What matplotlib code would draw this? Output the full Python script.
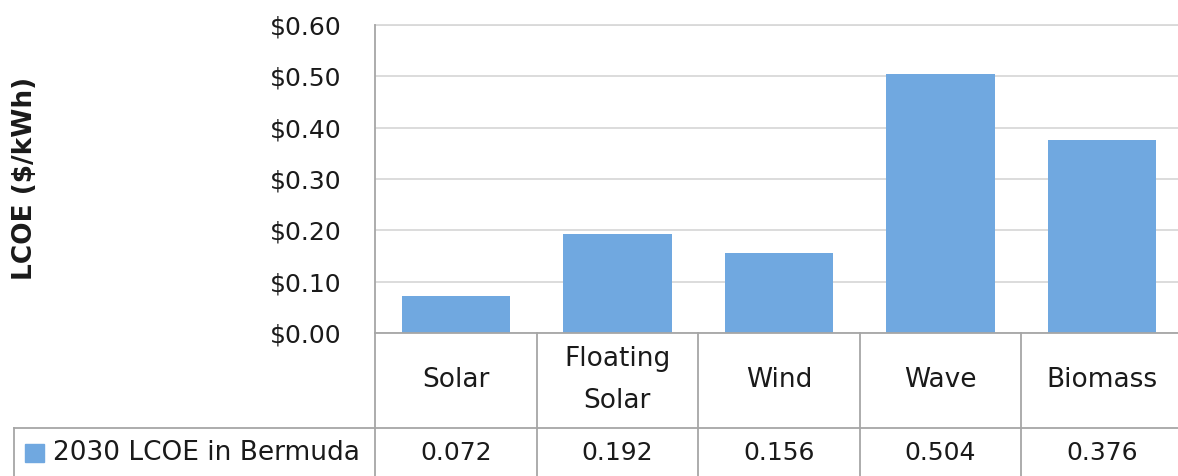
import matplotlib
matplotlib.use("Agg")
import matplotlib.pyplot as plt
from matplotlib.transforms import blended_transform_factory

categories = ["Solar", "Floating\nSolar", "Wind", "Wave", "Biomass"]
lcoe_2030 = [0.072, 0.192, 0.156, 0.504, 0.376]
series_name = "2030 LCOE in Bermuda"
yticks = [0.0, 0.1, 0.2, 0.3, 0.4, 0.5, 0.6]

plt.rcParams["font.family"] = ["DejaVu Sans"]
FS_NUM = 18
FS_TXT = 19

W, H = 1178, 476
fig = plt.figure(figsize=(W / 100, H / 100), dpi=100)

# plot area in pixel coordinates
x0, x1 = 375, 1183
y_top, y_bot = 25, 333
ax = fig.add_axes([x0 / W, 1 - y_bot / H, (x1 - x0) / W, (y_bot - y_top) / H])

bar_color = "#70A8E0"
grid_color = "#D9D9D9"
line_color = "#A6A6A6"
text_color = "#1a1a1a"

xs = range(len(categories))
ax.bar(xs, lcoe_2030, width=0.67, color=bar_color, zorder=3)
ax.set_xlim(-0.5, len(categories) - 0.5)
ax.set_ylim(0, 0.6)
ax.set_yticks(yticks)
ax.set_yticklabels([f"${v:.2f}" for v in yticks], fontsize=FS_NUM, color=text_color)
ax.tick_params(axis="y", length=0, pad=24)
ax.set_xticks([])
ax.yaxis.grid(True, color=grid_color, linewidth=1.3, zorder=0)
ax.axhline(0.6, color=grid_color, linewidth=1.3, zorder=0, clip_on=False)
for s in ["top", "right", "bottom"]:
    ax.spines[s].set_visible(False)
ax.spines["left"].set_color(line_color)
ax.spines["left"].set_linewidth(1.3)

fig.text(25 / W, 1 - 178 / H, "LCOE ($/kWh)", rotation=90, fontsize=FS_TXT,
         fontweight="bold", ha="center", va="center", color=text_color)

# data table below the axis
def fy(py):
    return 1 - py / H

def fx(px):
    return px / W

row_mid = 428
tbl_bot = 480
lw = 1.3
# horizontal rules
fig.add_artist(plt.Line2D([fx(x0), fx(W)], [fy(y_bot), fy(y_bot)], color=line_color, lw=lw))
fig.add_artist(plt.Line2D([fx(14), fx(W)], [fy(row_mid), fy(row_mid)], color=line_color, lw=lw))
# vertical rules
fig.add_artist(plt.Line2D([fx(14), fx(14)], [fy(row_mid), fy(tbl_bot)], color=line_color, lw=lw))
fig.add_artist(plt.Line2D([fx(x0), fx(x0)], [fy(y_bot), fy(tbl_bot)], color=line_color, lw=lw))

trans = blended_transform_factory(ax.transData, fig.transFigure)
for i in range(1, len(categories)):
    xb = i - 0.5
    ax.add_artist(plt.Line2D([xb, xb], [fy(y_bot), fy(tbl_bot)], transform=trans,
                             color=line_color, lw=lw, clip_on=False))

for i, (cat, val) in enumerate(zip(categories, lcoe_2030)):
    ax.text(i, fy(380), cat, transform=trans, ha="center", va="center",
            fontsize=FS_TXT, color=text_color, linespacing=1.85, clip_on=False)
    ax.text(i, fy(453), f"{val:.3f}", transform=trans, ha="center", va="center",
            fontsize=FS_NUM, color=text_color, clip_on=False)

# legend key in the table's row header
fig.add_artist(plt.Rectangle((fx(25), fy(462)), (44 - 25) / W, (462 - 444) / H,
                             transform=fig.transFigure, color=bar_color))
fig.text(fx(53), fy(453), series_name, ha="left", va="center", fontsize=FS_TXT, color=text_color)

fig.savefig("out.png", dpi=100)
